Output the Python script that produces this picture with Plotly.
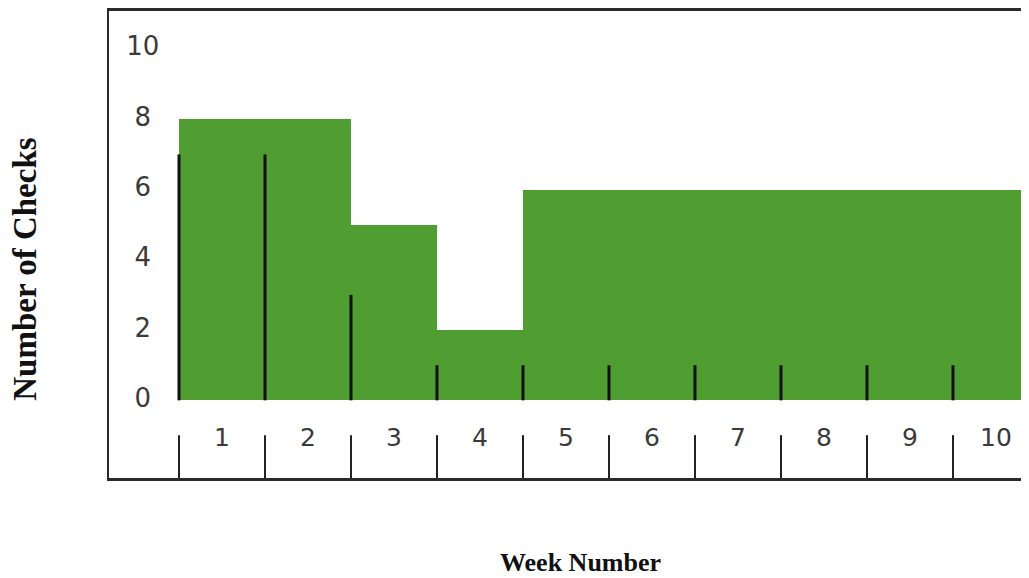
import plotly.graph_objects as go

weeks = [1, 2, 3, 4, 5, 6, 7, 8, 9, 10]
checks = [8, 8, 5, 2, 6, 6, 6, 6, 6, 6]
marker_heights = [7, 7, 3, 1, 1, 1, 1, 1, 1, 1]
y_ticks = [0, 2, 4, 6, 8, 10]

GREEN = "#509e32"
TXT = "#3a3a3a"

X_RANGE = [-0.314, 10.384]
Y_RANGE = [-2.21, 11.08]
label_y = -1.13
sep_top = -0.99
ytick_x = 0.08

fig = go.Figure()
fig.add_trace(go.Bar(x=weeks, y=checks, width=1, marker=dict(color=GREEN, line=dict(width=0)),
                     hoverinfo="skip", showlegend=False))

bounds = [w - 0.5 for w in weeks]
# vertical black lines inside the bars
lx, ly = [], []
for b, h in zip(bounds, marker_heights):
    lx += [b, b, None]
    ly += [0, h, None]
fig.add_trace(go.Scatter(x=lx, y=ly, mode="lines", line=dict(color="#111111", width=3),
                         hoverinfo="skip", showlegend=False))

# separators under the axis
sx, sy = [], []
for b in bounds:
    sx += [b, b, None]
    sy += [sep_top, Y_RANGE[0], None]
fig.add_trace(go.Scatter(x=sx, y=sy, mode="lines", line=dict(color="#222222", width=2),
                         hoverinfo="skip", showlegend=False))

# week labels
fig.add_trace(go.Scatter(x=weeks, y=[label_y] * len(weeks), mode="text",
                         text=[str(w) for w in weeks],
                         textfont=dict(family="DejaVu Sans", size=25, color=TXT),
                         hoverinfo="skip", showlegend=False))
# y tick labels
fig.add_trace(go.Scatter(x=[ytick_x] * len(y_ticks), y=y_ticks, mode="text",
                         text=[str(v) for v in y_ticks],
                         textfont=dict(family="DejaVu Sans", size=26, color=TXT),
                         hoverinfo="skip", showlegend=False))

fig.update_layout(
    width=1021, height=570,
    margin=dict(l=101, r=0, t=1, b=100),
    paper_bgcolor="white", plot_bgcolor="white",
    bargap=0,
    xaxis=dict(range=X_RANGE, showgrid=False, zeroline=False, showticklabels=False,
               ticks="", showline=True, mirror=True, linecolor="#2a2a2a", linewidth=3),
    yaxis=dict(range=Y_RANGE, showgrid=False, zeroline=False, showticklabels=False,
               ticks="", showline=True, mirror=False, linecolor="#2a2a2a", linewidth=2),
    annotations=[
        dict(text="<b>Number of Checks</b>", xref="paper", yref="paper", x=-0.0913, y=0.448,
             textangle=-90, showarrow=False, xanchor="center", yanchor="middle",
             font=dict(family="Liberation Serif", size=33, color="#111111")),
        dict(text="<b>Week Number</b>", xref="paper", yref="paper", x=0.513, y=-0.18,
             showarrow=False, xanchor="center", yanchor="middle",
             font=dict(family="Liberation Serif", size=26, color="#111111")),
    ],
)

fig.write_html("out.html")
